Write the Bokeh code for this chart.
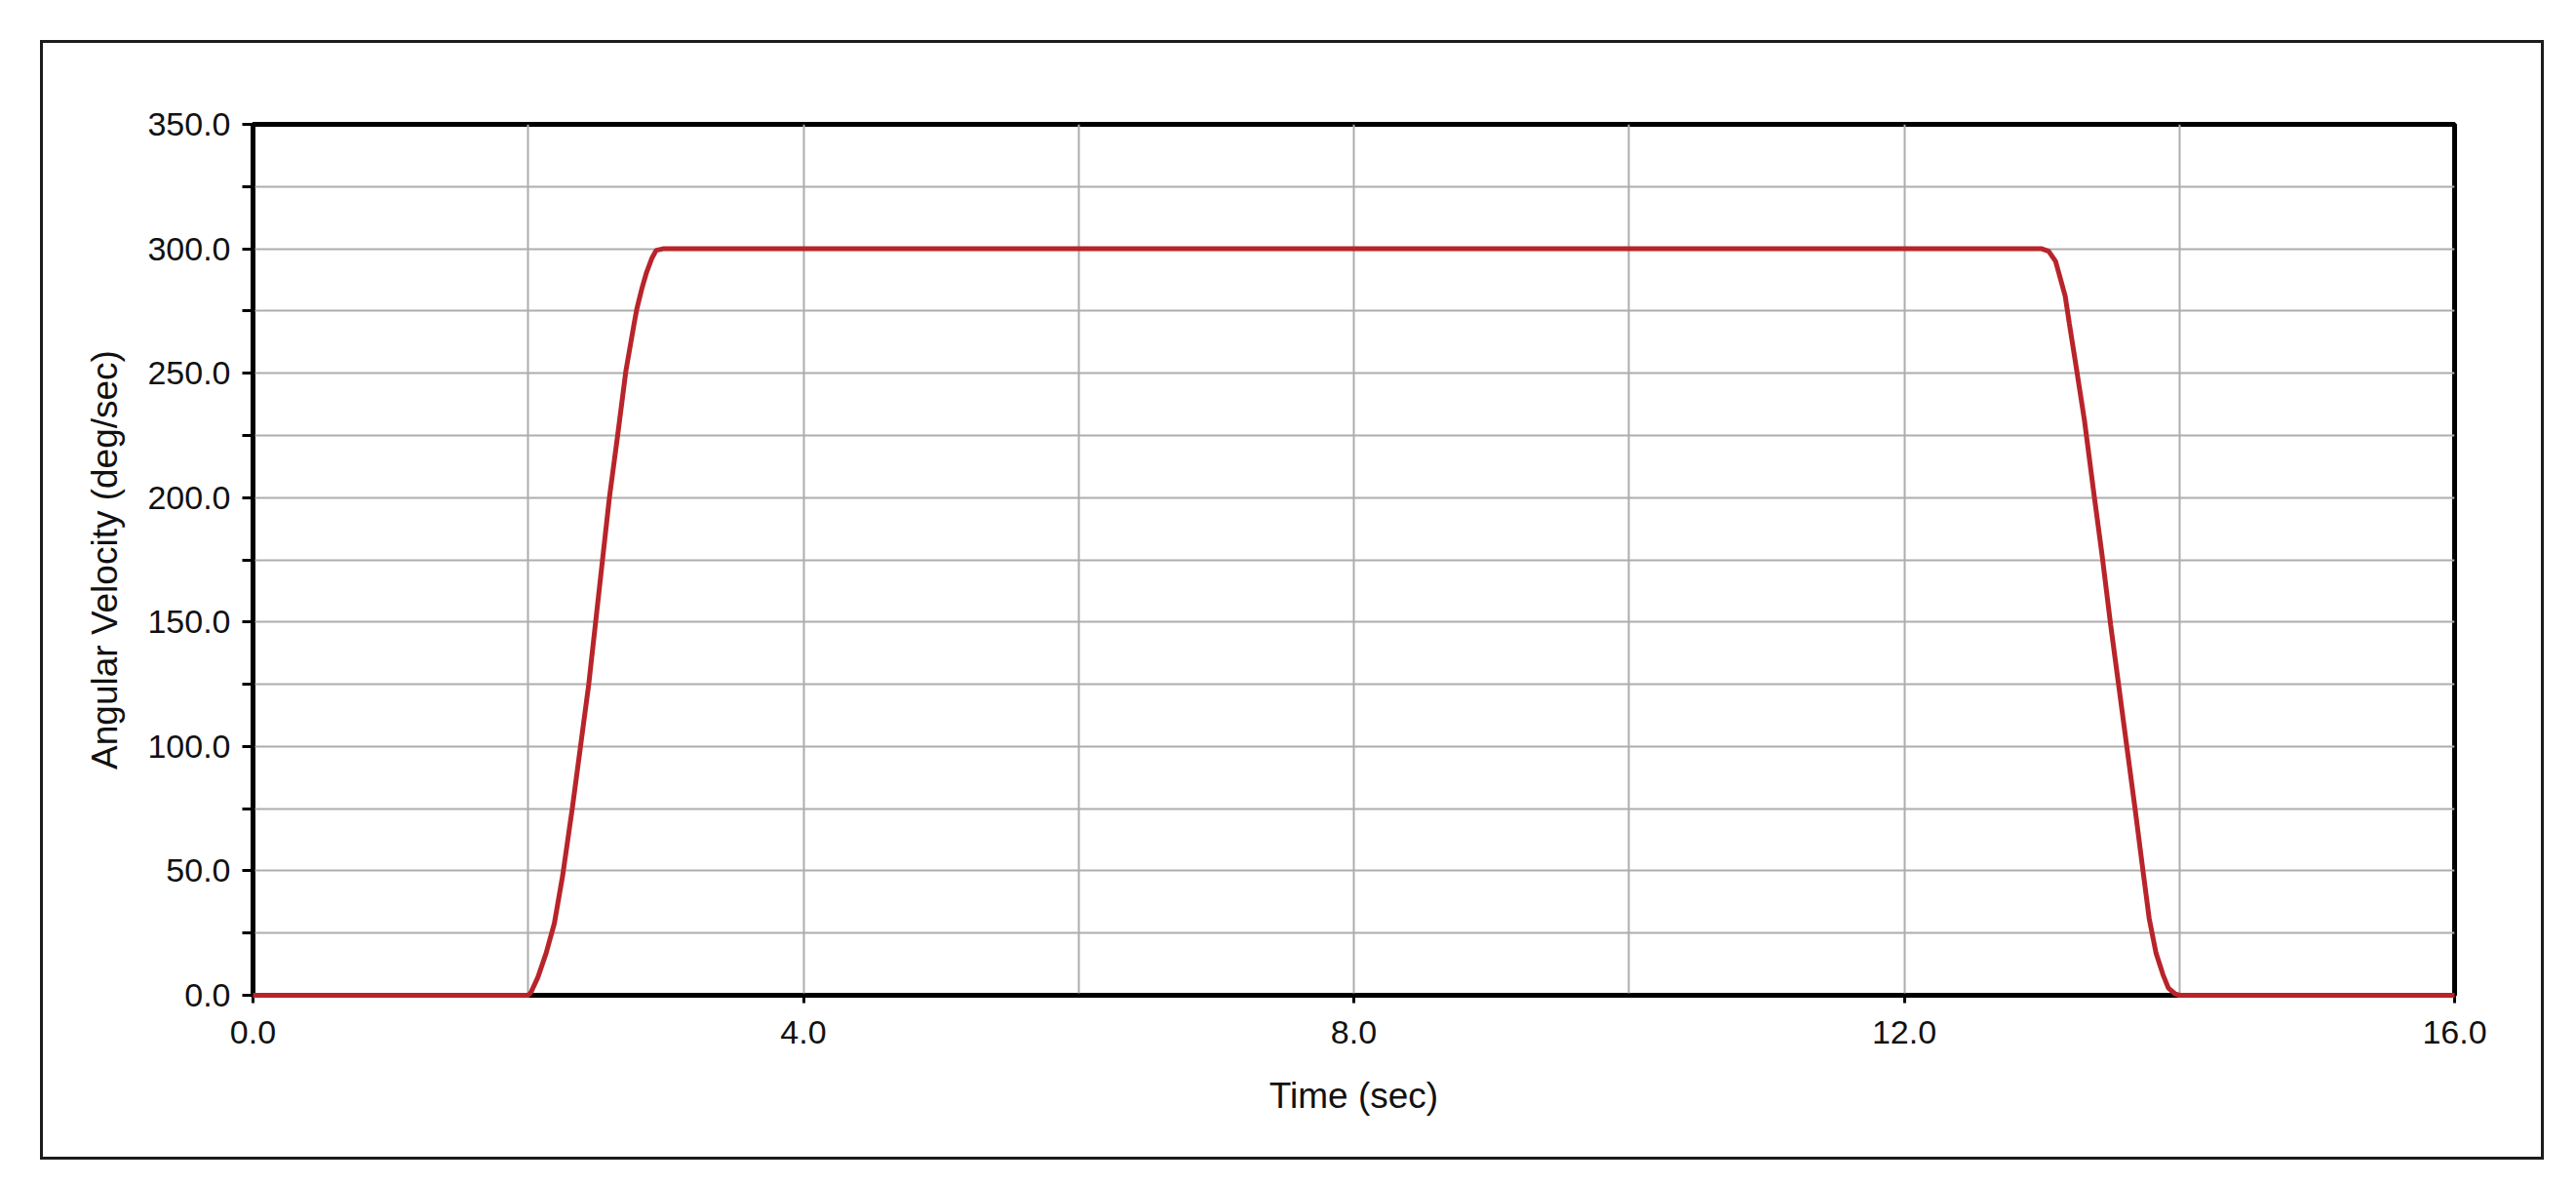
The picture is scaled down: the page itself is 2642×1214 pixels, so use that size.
from bokeh.plotting import figure
from bokeh.models import Range1d, FixedTicker, PrintfTickFormatter
from bokeh.embed import file_html
from bokeh.resources import INLINE

# ---- data ----
time_sec = [0.0, 2.0, 2.02, 2.07, 2.13, 2.19, 2.25, 2.32, 2.38, 2.44, 2.49, 2.54, 2.59,
            2.65, 2.71, 2.77, 2.79, 2.826, 2.86, 2.897, 2.93, 2.98,
            13.0, 13.05, 13.10, 13.13, 13.17, 13.20, 13.24, 13.31, 13.38, 13.44, 13.50,
            13.56, 13.62, 13.68, 13.74, 13.78, 13.83, 13.88, 13.92, 13.97, 14.0, 16.0]
ang_vel = [0.0, 0.0, 1.2, 7.2, 16.9, 28.9, 48.0, 75.0, 100.0, 125.0, 150.0, 175.0, 200.0,
           225.0, 251.0, 270.0, 276.0, 284.0, 290.5, 296.0, 299.4, 300.0,
           300.0, 299.0, 295.0, 289.0, 281.0, 270.0, 256.0, 231.0, 201.0, 176.0, 149.0,
           124.0, 99.0, 74.0, 48.0, 31.0, 17.0, 8.4, 2.9, 0.5, 0.0, 0.0]

x_major = [0, 4, 8, 12, 16]
x_minor = [2, 6, 10, 14]
y_major = [0, 50, 100, 150, 200, 250, 300, 350]
y_minor = [25, 75, 125, 175, 225, 275, 325]

FONT = "Liberation Sans"

p = figure(width=2568, height=1148,
           x_range=Range1d(0, 16), y_range=Range1d(0, 350),
           output_backend="svg", toolbar_location=None,
           min_border_left=215, min_border_right=95,
           min_border_top=83, min_border_bottom=172,
           margin=(41, 0, 0, 41),
           styles={"border": "3px solid #1c1c1c"})

p.background_fill_color = "white"
p.border_fill_color = "white"
p.outline_line_color = "black"
p.outline_line_width = 5

# axes
p.xaxis.ticker = FixedTicker(ticks=x_major, minor_ticks=x_minor)
p.yaxis.ticker = FixedTicker(ticks=y_major, minor_ticks=y_minor)
p.xaxis.formatter = PrintfTickFormatter(format="%.1f")
p.yaxis.formatter = PrintfTickFormatter(format="%.1f")

for ax in (p.xaxis, p.yaxis):
    ax.axis_line_color = "black"
    ax.axis_line_width = 4
    ax.major_tick_line_color = "black"
    ax.major_tick_line_width = 3
    ax.minor_tick_line_color = "black"
    ax.minor_tick_line_width = 3
    ax.major_tick_in = 0
    ax.minor_tick_in = 0
    ax.major_label_text_font = FONT
    ax.major_label_text_font_size = "34px"
    ax.major_label_text_color = "#111111"
    ax.axis_label_text_font = FONT
    ax.axis_label_text_font_size = "37px"
    ax.axis_label_text_font_style = "normal"
    ax.axis_label_text_color = "#111111"

p.xaxis.major_tick_out = 8
p.xaxis.minor_tick_out = 0
p.xaxis.major_label_standoff = 18
p.xaxis.axis_label = "Time (sec)"
p.xaxis.axis_label_standoff = 30

p.yaxis.major_tick_out = 11
p.yaxis.minor_tick_out = 11
p.yaxis.major_label_standoff = 12
p.yaxis.axis_label = "Angular Velocity (deg/sec)"
p.yaxis.axis_label_standoff = 20

# grid
for g in (p.xgrid, p.ygrid):
    g.grid_line_color = "#adadad"
    g.grid_line_width = 2
    g.minor_grid_line_color = "#adadad"
    g.minor_grid_line_width = 2

r = p.line(time_sec, ang_vel, line_color="#b8242a", line_width=5)
r.level = "overlay"

open("out.html", "w").write(file_html(p, INLINE))
